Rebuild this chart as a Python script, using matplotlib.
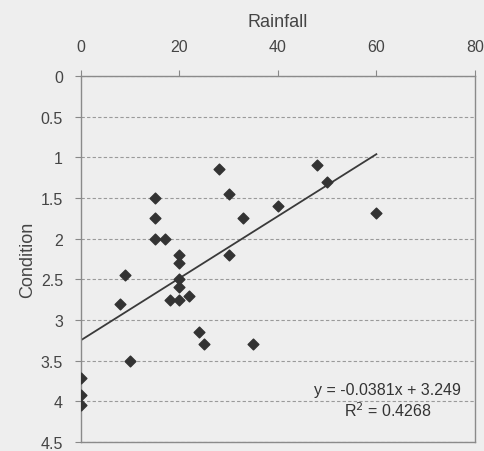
import matplotlib.pyplot as plt
import numpy as np

# rainfall vs condition
rainfall = [28, 30, 40, 33, 15, 15, 15, 17, 30, 20, 20, 9, 20, 20,
            8, 18, 20, 22, 24, 25, 35, 10, 0, 0, 0, 48, 50, 60]
condition = [1.15, 1.45, 1.6, 1.75, 1.5, 1.75, 2.0, 2.0, 2.2, 2.2, 2.3, 2.45, 2.5, 2.6,
             2.8, 2.75, 2.75, 2.7, 3.15, 3.3, 3.3, 3.5, 3.72, 3.92, 4.05, 1.1, 1.3, 1.68]
# trendline as printed on the chart
slope = -0.0381
intercept = 3.249
r2 = 0.4268

x_ticks = [0, 20, 40, 60, 80]
y_ticks = [0, 0.5, 1, 1.5, 2, 2.5, 3, 3.5, 4, 4.5]

bg = '#eeeeee'
ink = '#454545'
plt.rcParams['font.family'] = ['Liberation Sans', 'DejaVu Sans']

fig = plt.figure(figsize=(4.85, 4.52), dpi=100, facecolor=bg)
ax = fig.add_axes([0.167, 0.020, 0.812, 0.810], facecolor=bg)

ax.scatter(rainfall, condition, marker='D', s=30, color='#333333', zorder=3)

# linear trendline across the data range
xl = np.array([min(rainfall), max(rainfall)])
ax.plot(xl, slope * xl + intercept, color='#3a3a3a', lw=1.3, zorder=2)

ax.set_xlim(0, 80)
ax.set_ylim(4.5, 0)
ax.set_xticks(x_ticks)
ax.set_yticks(y_ticks)
ax.set_yticklabels([f'{v:g}' for v in y_ticks])
ax.xaxis.tick_top()
ax.xaxis.set_label_position('top')
ax.set_xlabel('Rainfall', fontsize=13, color=ink, labelpad=9)
ax.set_ylabel('Condition', fontsize=13, color=ink, labelpad=3)
ax.tick_params(axis='x', direction='out', length=4, color='#888888',
               labelsize=11.5, labelcolor=ink, pad=12)
ax.tick_params(axis='y', direction='out', length=4, color='#888888',
               labelsize=11.5, labelcolor=ink, pad=9)
ax.grid(axis='y', linestyle=(0, (3, 2)), color='#9a9a9a', lw=0.8)
ax.set_axisbelow(True)
for s in ax.spines.values():
    s.set_color('#8a8a8a')
    s.set_linewidth(1)

ax.text(62.3, 3.99, f'y = {slope}x + {intercept}\nR$^2$ = {r2}', ha='center',
        va='center', fontsize=11.5, color='#333333', linespacing=1.2)

fig.savefig('out.png', dpi=100, facecolor=bg)
